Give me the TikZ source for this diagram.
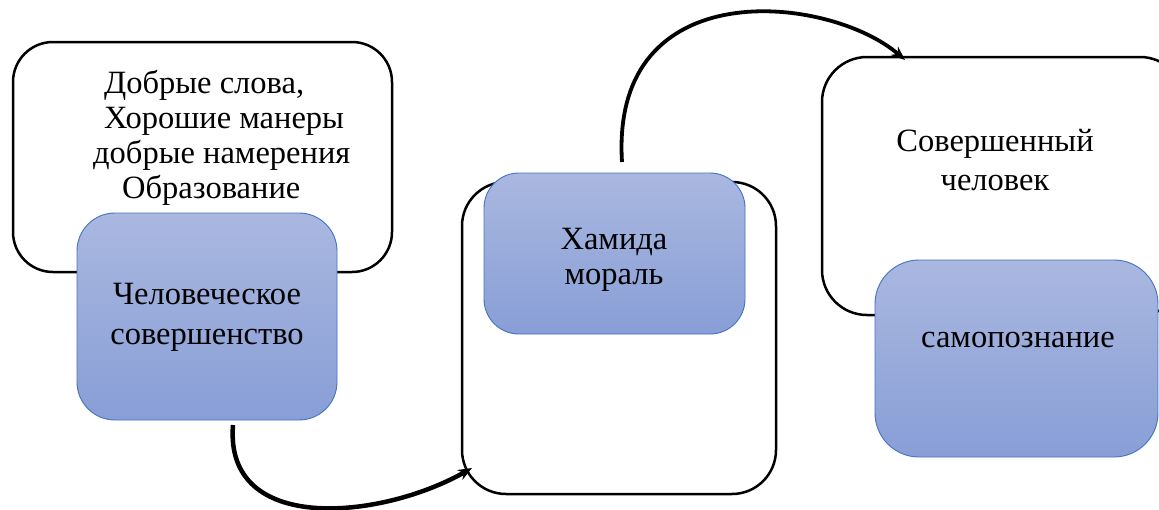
\documentclass[tikz,border=0pt]{standalone}
\usepackage{fontspec}
\setmainfont{Liberation Serif}
\usetikzlibrary{arrows.meta}
\definecolor{bluetop}{RGB}{170,184,224}
\definecolor{bluebot}{RGB}{136,158,214}
\definecolor{blueline}{RGB}{68,114,196}
\begin{document}
\begin{tikzpicture}[x=1pt,y=-1pt,
 whitebox/.style={draw=black,line width=2.5pt,fill=white,rounded corners=40pt,inner sep=0pt},
 bluebox/.style={draw=blueline,line width=0.9pt,top color=bluetop,bottom color=bluebot,rounded corners=38pt,inner sep=0pt},
 lbl/.style={font=\fontsize{32.5}{35}\selectfont,inner sep=0pt},
 conn/.style={line width=3.8pt,-{Stealth[length=14pt,width=11pt]}}]
\useasboundingbox (0,0) rectangle (1159,509);
\clip (0,0) rectangle (1159,509);
% white boxes
\node[whitebox,minimum width=379pt,minimum height=230pt] (w1) at (202.5,157) {};
\node[whitebox,minimum width=314pt,minimum height=312pt,rounded corners=44pt] (w2) at (619,338) {};
\node[whitebox,minimum width=363pt,minimum height=258pt,rounded corners=45pt] (w3) at (1003.5,186) {};
% blue boxes
\node[bluebox,minimum width=260pt,minimum height=207pt] (b1) at (207,316.5) {};
\node[bluebox,minimum width=261pt,minimum height=161pt,rounded corners=35pt] (b2) at (614.5,253.5) {};
\node[bluebox,minimum width=283pt,minimum height=197pt,rounded corners=44pt] (b3) at (1016.5,358.5) {};
% texts
\node[lbl,anchor=west,align=left] (t1) at (93,138) {\hspace*{11pt}Добрые слова,\\\hspace*{11pt}Хорошие манеры\\добрые намерения\\\hspace*{29pt}Образование};
\node[lbl,align=center,font=\fontsize{32.5}{40}\selectfont] (t2) at (207,317) {Человеческое\\совершенство};
\node[lbl,align=center] (t3) at (614,260) {Хамида\\мораль};
\node[lbl,align=center,font=\fontsize{32.5}{39}\selectfont] (t4) at (995,160) {Совершенный\\человек};
\node[lbl] (t5) at (1018,340) {самопознание};
% connectors
\coordinate (s1) at (233,425);
\coordinate (e1) at (472,468);
\coordinate (s2) at (622,162);
\coordinate (e2) at (905,60);
\draw[conn,line width=4.5pt] (s1) .. controls (224,535) and (380,520) .. (e1);
\draw[conn] (s2) .. controls (610,-30) and (830,-5) .. (e2);
\end{tikzpicture}
\end{document}
